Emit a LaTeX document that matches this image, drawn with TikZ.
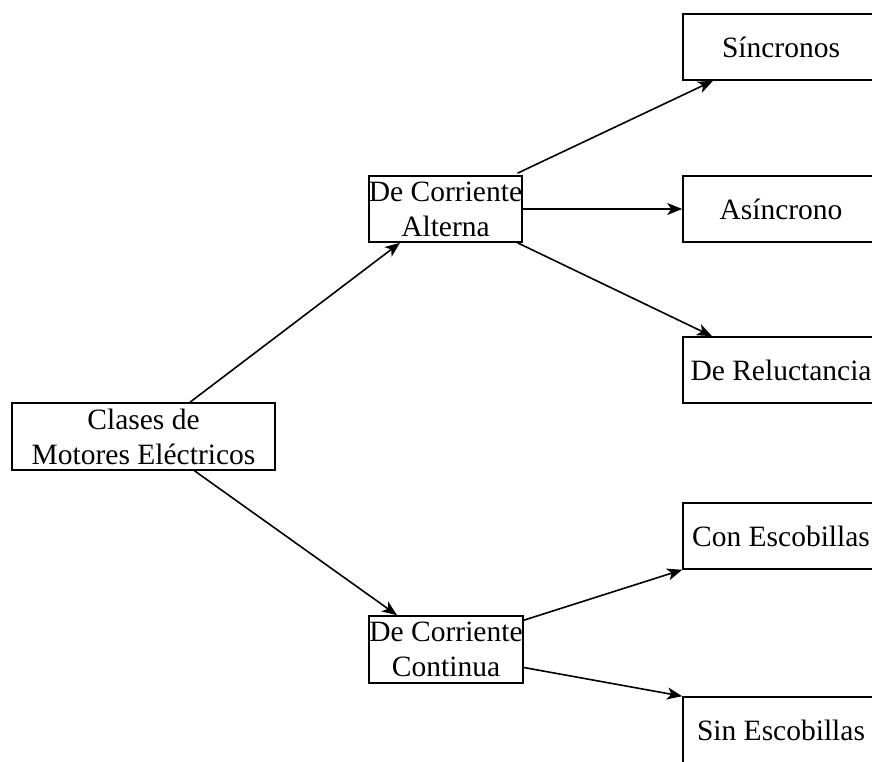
\documentclass[tikz,border=0pt]{standalone}
\usepackage{fontspec}
\setmainfont{Liberation Serif}
\usetikzlibrary{arrows.meta,calc}
\begin{document}
\begin{tikzpicture}[x=1pt,y=-1pt,
  box/.style={draw=black,line width=1.6pt,fill=white,inner sep=0pt,align=center,
    font=\fontsize{29.5}{35}\selectfont},
  conn/.style={draw=black,line width=1.6pt,-{Stealth[length=15pt,width=12pt,inset=4pt]}}]
\useasboundingbox (0,0) rectangle (872,762);
\clip (0,0) rectangle (872,762);
\fill[white] (0,0) rectangle (872,762);
\node[box,minimum width=263pt,minimum height=67pt] (cl) at (143.5,436.5) {Clases de\\Motores Eléctricos};
\node[box,minimum width=153pt,minimum height=66pt] (al) at (445.5,209) {De Corriente\\Alterna};
\node[box,minimum width=154pt,minimum height=67pt] (co) at (446,649.5) {De Corriente\\Continua};
\node[box,minimum width=196pt,minimum height=66pt] (si) at (781,47) {Síncronos};
\node[box,minimum width=196pt,minimum height=66pt] (as) at (781,209) {Asíncrono};
\node[box,minimum width=196pt,minimum height=66pt] (re) at (781,370) {De Reluctancia};
\node[box,minimum width=196pt,minimum height=66pt] (ce) at (781,536) {Con Escobillas};
\node[box,minimum width=196pt,minimum height=66pt] (se) at (781,730) {Sin Escobillas};
\draw[conn] ([xshift=46.5pt]cl.north) -- ([xshift=-45.5pt]al.south);
\draw[conn] ([xshift=51pt]cl.south) -- ([xshift=-49pt]co.north);
\draw[conn] ([xshift=72pt,yshift=2pt]al.north) -- ([xshift=-68pt]si.south);
\draw[conn] (al.east) -- (al.east -| as.west);
\draw[conn] ([xshift=72pt]al.south) -- ([xshift=-69pt]re.north);
\draw[conn] ([yshift=-5pt]co.north east) -- (ce.south west);
\draw[conn] ([yshift=-18pt]co.east) -- (se.north west);
\end{tikzpicture}
\end{document}
